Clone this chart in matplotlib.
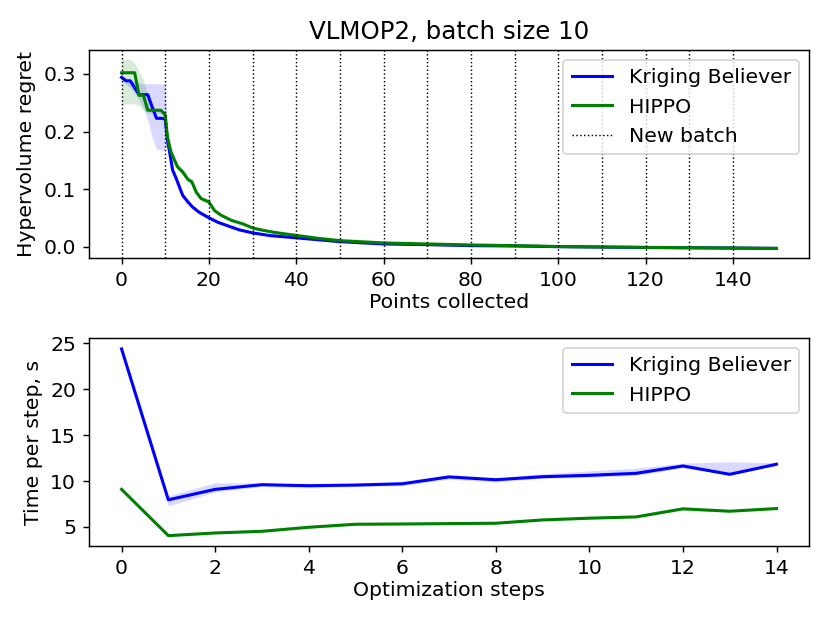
import numpy as np
import matplotlib
matplotlib.use("Agg")
import matplotlib.pyplot as plt

plt.rcParams["font.size"] = 11.3

# --- hypervolume regret vs points collected ---
kb_x = [0, 1, 2, 3, 4, 5, 6, 7, 8, 9, 10, 10.5, 11.2, 11.7, 12.5, 13.1, 14, 15.2, 16.3,
        17.8, 20, 22, 24.8, 27, 30, 34, 38.6, 45, 50, 60, 70, 80, 90, 100, 110, 120,
        130, 140, 150]
kb_y = [0.294, 0.288, 0.288, 0.276, 0.264, 0.264, 0.264, 0.243, 0.223, 0.223, 0.222,
        0.186, 0.156, 0.133, 0.119, 0.107, 0.0895, 0.078, 0.069, 0.060, 0.0506, 0.043,
        0.0354, 0.0296, 0.0244, 0.0197, 0.0168, 0.0125, 0.0092, 0.0052, 0.004, 0.0023,
        0.0017, 0.0005, -0.0002, -0.0009, -0.0014, -0.0019, -0.0025]
kb_lo = [0.290, 0.282, 0.276, 0.266, 0.255, 0.240, 0.220, 0.190, 0.170, 0.168, 0.168,
         0.178, 0.148, 0.126, 0.112, 0.101, 0.085, 0.074, 0.066, 0.057, 0.048, 0.041,
         0.0338, 0.0284, 0.0234, 0.0189, 0.0161, 0.0119, 0.0087, 0.0048, 0.0037, 0.0021,
         0.0015, 0.0003, -0.0004, -0.0011, -0.0016, -0.0021, -0.0027]
kb_hi = [0.298, 0.292, 0.290, 0.288, 0.285, 0.283, 0.283, 0.283, 0.283, 0.283, 0.283,
         0.194, 0.164, 0.140, 0.126, 0.113, 0.094, 0.082, 0.072, 0.063, 0.053, 0.045,
         0.0370, 0.0308, 0.0254, 0.0205, 0.0175, 0.0131, 0.0097, 0.0056, 0.0043, 0.0025,
         0.0019, 0.0007, 0.0000, -0.0007, -0.0012, -0.0017, -0.0023]

hp_x = [0, 1, 2, 3, 4, 5, 6, 7, 8, 9, 10, 10.5, 11.3, 12.1, 12.8, 14, 15.2, 16.1, 17.1,
        18.2, 20, 21.3, 22.8, 25.2, 27.8, 30, 31.7, 34.8, 38.6, 45, 50, 60, 70, 80, 90,
        100, 110, 120, 130, 140, 150]
hp_y = [0.302, 0.302, 0.302, 0.302, 0.263, 0.263, 0.237, 0.237, 0.237, 0.237, 0.229,
        0.191, 0.165, 0.151, 0.139, 0.130, 0.117, 0.113, 0.095, 0.084, 0.078, 0.063,
        0.055, 0.046, 0.040, 0.033, 0.030, 0.0255, 0.0215, 0.015, 0.011, 0.007, 0.0052,
        0.0035, 0.0023, 0.0008, 0.0, -0.0007, -0.0013, -0.0018, -0.0024]
hp_lo = [0.248, 0.248, 0.248, 0.248, 0.245, 0.237, 0.232, 0.232, 0.232, 0.232, 0.224,
         0.183, 0.158, 0.144, 0.133, 0.125, 0.112, 0.108, 0.091, 0.080, 0.074, 0.060,
         0.052, 0.044, 0.038, 0.031, 0.028, 0.0240, 0.0202, 0.014, 0.0103, 0.0065,
         0.0048, 0.0032, 0.0021, 0.0006, -0.0002, -0.0009, -0.0015, -0.0020, -0.0026]
hp_hi = [0.325, 0.325, 0.325, 0.318, 0.305, 0.290, 0.262, 0.245, 0.240, 0.238, 0.236,
         0.199, 0.172, 0.158, 0.146, 0.136, 0.123, 0.119, 0.100, 0.089, 0.082, 0.067,
         0.058, 0.049, 0.042, 0.035, 0.032, 0.0270, 0.0228, 0.016, 0.0117, 0.0075,
         0.0056, 0.0038, 0.0025, 0.0010, 0.0002, -0.0005, -0.0011, -0.0016, -0.0022]

batch_starts = list(range(0, 150, 10))

# --- time per optimization step ---
steps = list(range(15))
kb_time = [24.4, 7.95, 9.09, 9.6, 9.49, 9.56, 9.7, 10.45, 10.14, 10.47, 10.62, 10.84,
           11.64, 10.73, 11.83]
kb_time_lo = [24.3, 7.3, 8.8, 9.4, 9.25, 9.4, 9.5, 10.2, 9.9, 10.3, 10.4, 10.6, 11.45,
              10.7, 11.7]
kb_time_hi = [24.55, 8.4, 9.8, 9.8, 9.6, 9.7, 9.9, 10.6, 10.3, 10.8, 11.1, 11.4, 11.95,
              12.1, 12.0]
hp_time = [9.09, 4.05, 4.34, 4.52, 4.96, 5.29, 5.32, 5.36, 5.4, 5.76, 5.95, 6.09, 6.97,
           6.71, 7.0]
hp_time_lo = [9.0, 3.95, 4.25, 4.45, 4.88, 5.22, 5.25, 5.3, 5.33, 5.7, 5.88, 6.02, 6.8,
              6.63, 6.93]
hp_time_hi = [9.18, 4.15, 4.5, 4.6, 5.05, 5.36, 5.4, 5.45, 5.48, 5.84, 6.05, 6.18, 7.05,
              6.8, 7.08]

fig, (ax1, ax2) = plt.subplots(2, 1, figsize=(830 / 130, 623 / 130), dpi=130)
fig.subplots_adjust(left=0.107, right=0.975, top=0.9197, bottom=0.1236, hspace=0.385)

# top panel
ax1.plot(kb_x, kb_y, color="blue", lw=1.7, label="Kriging Believer")
ax1.fill_between(kb_x, kb_lo, kb_hi, color="blue", alpha=0.15, lw=0)
ax1.plot(hp_x, hp_y, color="green", lw=1.7, label="HIPPO")
ax1.fill_between(hp_x, hp_lo, hp_hi, color="green", alpha=0.15, lw=0)
for i, b in enumerate(batch_starts):
    ax1.axvline(b, color="black", linestyle=":", linewidth=0.8,
                label="New batch" if i == 0 else None)
ax1.set_title("VLMOP2, batch size 10")
ax1.set_xlabel("Points collected", labelpad=2)
ax1.set_ylabel("Hypervolume regret")
ax1.legend(loc="upper right")

# bottom panel
ax2.plot(steps, kb_time, color="blue", lw=1.7, label="Kriging Believer")
ax2.fill_between(steps, kb_time_lo, kb_time_hi, color="blue", alpha=0.15, lw=0)
ax2.plot(steps, hp_time, color="green", lw=1.7, label="HIPPO")
ax2.fill_between(steps, hp_time_lo, hp_time_hi, color="green", alpha=0.15, lw=0)
ax2.set_xlabel("Optimization steps", labelpad=2)
ax2.set_ylabel("Time per step, s")
ax2.legend(loc="upper right")

fig.savefig("out.png", dpi=130)
